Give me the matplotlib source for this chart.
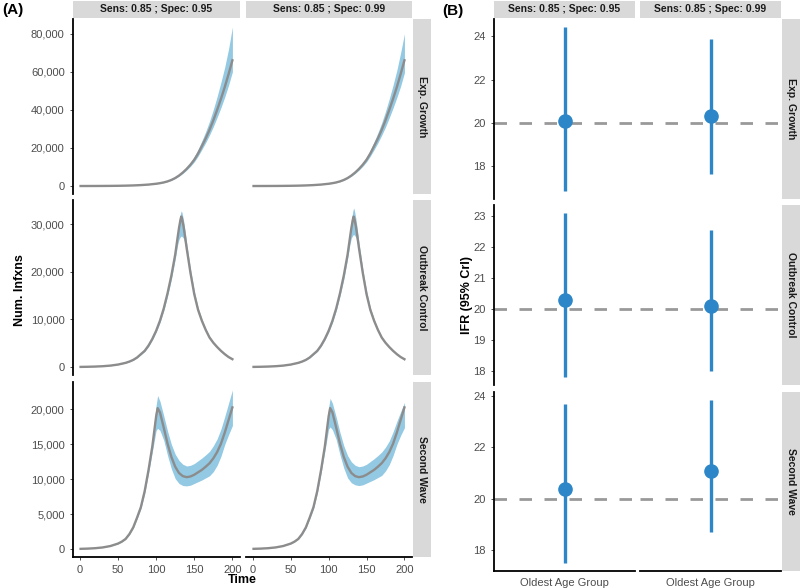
import matplotlib
matplotlib.use("Agg")
import matplotlib.pyplot as plt
import matplotlib.ticker as mticker
import numpy as np

plt.rcParams['font.family'] = ['Liberation Sans', 'DejaVu Sans']

# ---- panel A data: infections over time (median + 95% band) ----
scenarios = ["Exp. Growth", "Outbreak Control", "Second Wave"]
assays = ["Sens: 0.85 ; Spec: 0.95", "Sens: 0.85 ; Spec: 0.99"]

exp_time = [1, 10, 20, 30, 40, 50, 60, 70, 80, 90, 100,
            105, 110, 115, 120, 125, 130, 135, 140, 145, 150, 155, 160, 165, 170, 175, 180, 185, 190, 195, 200]
exp_med = [17, 24, 36, 55, 85, 130, 205, 320, 500, 770, 1200,
           1500, 1900, 2450, 3200, 4200, 5500, 7100, 9000, 11200, 13800, 17100, 21000, 25000, 29500, 34500,
           40000, 45800, 52000, 58800, 66000]
exp_hi_1 = [18, 25, 38, 58, 90, 137, 215, 336, 525, 810, 1260,
            1580, 2000, 2600, 3400, 4500, 5950, 7750, 9900, 12400, 15400, 19300, 23800, 28600, 34000, 40200,
            47000, 54500, 62500, 72000, 83500]
exp_lo_1 = [16, 23, 34, 52, 81, 124, 195, 304, 475, 730, 1140,
            1430, 1800, 2320, 3020, 3950, 5150, 6620, 8350, 10350, 12700, 15700, 19200, 22800, 26800, 31200,
            36100, 41200, 46800, 53000, 60000]
exp_hi_2 = [18, 25, 38, 58, 90, 137, 215, 336, 525, 810, 1260,
            1580, 2000, 2580, 3380, 4450, 5880, 7650, 9750, 12200, 15100, 18900, 23300, 28000, 33200, 39200,
            45800, 53000, 60800, 70000, 80000]
exp_lo_2 = [16, 23, 34, 52, 81, 124, 195, 304, 475, 730, 1140,
            1430, 1800, 2320, 3020, 3950, 5150, 6620, 8350, 10350, 12700, 15700, 19100, 22700, 26700, 31000,
            35900, 41000, 46500, 52500, 59500]

ob_time = [1, 10, 20, 30, 40, 50, 60, 65, 70, 75, 80, 85, 90, 95, 100, 105, 110, 115, 120, 125,
           128, 130, 132, 133, 134, 136, 138, 140, 145, 150, 155, 160, 165, 170, 175, 180, 185, 190, 195, 200]
ob_med = [30, 55, 100, 175, 300, 520, 880, 1150, 1500, 2000, 2700, 3400, 4500, 5900, 7600, 9700, 12300, 15500,
          19200, 23600, 27000, 29200, 31000, 31600, 31100, 29500, 27300, 25000, 19800, 15300, 12000, 9700, 7800,
          6200, 5100, 4200, 3400, 2700, 2100, 1650]
ob_hi_1 = [32, 58, 105, 183, 315, 545, 920, 1200, 1570, 2090, 2820, 3560, 4700, 6150, 7900, 10100, 12800, 16100,
           19900, 24500, 28200, 30600, 32300, 32800, 32400, 30800, 28500, 26100, 20600, 16000, 12500, 10100, 8100,
           6450, 5300, 4380, 3550, 2820, 2200, 1730]
ob_lo_1 = [28, 52, 95, 167, 285, 495, 840, 1100, 1430, 1910, 2580, 3250, 4300, 5650, 7300, 9300, 11800, 14900,
           18400, 22600, 25500, 26800, 27400, 27500, 27400, 27000, 25800, 23900, 19000, 14700, 11500, 9300, 7500,
           5950, 4900, 4030, 3250, 2580, 2000, 1550]
ob_hi_2 = [32, 58, 105, 183, 315, 545, 920, 1200, 1570, 2090, 2820, 3560, 4700, 6150, 7900, 10100, 12800, 16100,
           19900, 24600, 28400, 30900, 32800, 33400, 32900, 31100, 28700, 26200, 20600, 16000, 12500, 10100, 8100,
           6450, 5300, 4380, 3550, 2820, 2200, 1730]
ob_lo_2 = [28, 52, 95, 167, 285, 495, 840, 1100, 1430, 1910, 2580, 3250, 4300, 5650, 7300, 9300, 11800, 14900,
           18400, 22700, 25700, 27100, 27700, 27800, 27700, 27200, 25900, 24000, 19000, 14700, 11500, 9300, 7500,
           5950, 4900, 4030, 3250, 2580, 2000, 1400]

sw_time = [1, 10, 20, 30, 40, 50, 55, 60, 65, 70, 75, 80, 85, 90, 95, 100, 102,
           105, 110, 115, 120, 125, 130, 135, 140, 145, 150, 155, 160, 165, 170, 175, 180, 185, 190, 195, 200]
sw_med = [30, 60, 120, 230, 430, 780, 1060, 1450, 2150, 3100, 4500, 6000, 8300, 11300, 14700, 19000, 20200,
          19600, 17400, 15100, 13200, 11800, 10900, 10450, 10300, 10400, 10650, 11000, 11350, 11800, 12300,
          13000, 13900, 15100, 16700, 18500, 20300]
sw_hi_1 = [32, 63, 125, 240, 445, 810, 1100, 1510, 2230, 3220, 4680, 6250, 8650, 11800, 15500, 20600, 22000,
           21200, 19100, 16900, 15000, 13600, 12700, 12150, 11900, 12000, 12250, 12650, 13050, 13500, 14000,
           14800, 15800, 17200, 19000, 20900, 22800]
sw_lo_1 = [28, 57, 115, 220, 415, 750, 1020, 1390, 2070, 2980, 4320, 5750, 7950, 10800, 13900, 17000, 17300,
           17000, 15600, 13400, 11500, 10100, 9400, 9100, 9050, 9150, 9400, 9650, 9900, 10200, 10500,
           11100, 12000, 13300, 15000, 16400, 17700]
sw_hi_2 = [32, 63, 125, 240, 445, 810, 1100, 1510, 2230, 3220, 4680, 6250, 8650, 11750, 15400, 20300, 21600,
           20900, 18900, 16700, 14800, 13400, 12500, 12000, 11800, 11900, 12150, 12550, 12950, 13400, 13900,
           14600, 15500, 16800, 18300, 19700, 21000]
sw_lo_2 = [28, 57, 115, 220, 415, 750, 1020, 1390, 2070, 2980, 4320, 5750, 7950, 10850, 14000, 17200, 17500,
           17100, 15700, 13500, 11600, 10200, 9500, 9200, 9100, 9200, 9450, 9700, 9950, 10250, 10550,
           11200, 12100, 13400, 15000, 16300, 17400]

# ---- panel B data: IFR estimate for oldest age group ----
age_group = "Oldest Age Group"
true_ifr = 20
ifr_med = [[20.09, 20.33], [20.30, 20.10], [20.38, 21.10]]
ifr_lo = [[16.86, 17.65], [17.82, 18.00], [17.52, 18.73]]
ifr_hi = [[24.43, 23.88], [23.10, 22.57], [23.68, 23.83]]

infx = [
    [(exp_time, exp_med, exp_lo_1, exp_hi_1), (exp_time, exp_med, exp_lo_2, exp_hi_2)],
    [(ob_time, ob_med, ob_lo_1, ob_hi_1), (ob_time, ob_med, ob_lo_2, ob_hi_2)],
    [(sw_time, sw_med, sw_lo_1, sw_hi_1), (sw_time, sw_med, sw_lo_2, sw_hi_2)],
]
a_ticks = [np.arange(0, 80001, 20000), np.arange(0, 30001, 10000), np.arange(0, 20001, 5000)]
b_ticks = [[18, 20, 22, 24], [18, 19, 20, 21, 22, 23], [18, 20, 22, 24]]

W, H = 800, 588
STRIP = "#D9D9D9"
TXT = "#4D4D4D"
BAND = "#93C9E3"
LINE = "#8C8C8C"
BLUE = "#2C86C7"


def box(x0, y0, x1, y1):
    return [x0 / W, 1 - y1 / H, (x1 - x0) / W, (y1 - y0) / H]


def strip(x0, y0, x1, y1, label, rot=0):
    s = fig.add_axes(box(x0, y0, x1, y1))
    s.set_facecolor(STRIP)
    s.set_xticks([])
    s.set_yticks([])
    for sp in s.spines.values():
        sp.set_visible(False)
    s.text(0.5, 0.5, label, transform=s.transAxes, ha='center', va='center',
           rotation=rot, fontsize=7.5, fontweight='bold', color='#1A1A1A')


def style(ax, col, row):
    for k in ['top', 'right']:
        ax.spines[k].set_visible(False)
    ax.spines['left'].set_visible(col == 0)
    ax.spines['bottom'].set_visible(row == 2)
    for k in ['left', 'bottom']:
        ax.spines[k].set_linewidth(1.3)
        ax.spines[k].set_color('black')
    ax.tick_params(colors='#333333', labelcolor=TXT, labelsize=8, length=2.5, width=0.6)
    if col != 0:
        ax.tick_params(axis='y', left=False, labelleft=False)
    if row != 2:
        ax.tick_params(axis='x', bottom=False, labelbottom=False)


fig = plt.figure(figsize=(W / 100, H / 100), dpi=100)

a_cols = [(73, 240), (246, 412)]
a_rows = [(19, 194), (200, 375), (382, 557)]
b_cols = [(494, 635), (640, 781)]
b_rows = [(19, 199), (205, 385), (392, 571)]

# panel A
for r in range(3):
    ymax = max(max(infx[r][c][3]) for c in range(2))
    for c in range(2):
        t, med, lo, hi = infx[r][c]
        ax = fig.add_axes(box(a_cols[c][0], a_rows[r][0], a_cols[c][1], a_rows[r][1]))
        ax.fill_between(t, lo, hi, color=BAND, lw=0)
        ax.plot(t, med, color=LINE, lw=1.7, solid_joinstyle='round')
        ax.set_xlim(-8.95, 209.95)
        ax.set_ylim(-0.05 * ymax, 1.05 * ymax)
        ax.set_yticks(a_ticks[r])
        ax.yaxis.set_major_formatter(mticker.StrMethodFormatter('{x:,.0f}'))
        ax.set_xticks([0, 50, 100, 150, 200])
        style(ax, c, r)
    strip(413, a_rows[r][0], 431, a_rows[r][1], scenarios[r], rot=-90)
for c in range(2):
    strip(a_cols[c][0], 1, a_cols[c][1], 18, assays[c])

# panel B
for r in range(3):
    lo_all = min(ifr_lo[r])
    hi_all = max(ifr_hi[r])
    pad = 0.05 * (hi_all - lo_all)
    for c in range(2):
        ax = fig.add_axes(box(b_cols[c][0], b_rows[r][0], b_cols[c][1], b_rows[r][1]))
        ax.axhline(true_ifr, color='#999999', lw=2.0, dashes=(4.5, 4.5), zorder=1)
        ax.vlines([age_group], ifr_lo[r][c], ifr_hi[r][c], color=BLUE, lw=2.4, zorder=2)
        ax.plot([age_group], [ifr_med[r][c]], 'o', color=BLUE, ms=9.5, zorder=3)
        ax.set_xlim(-0.6, 0.6)
        ax.set_ylim(lo_all - pad, hi_all + pad)
        ax.set_yticks(b_ticks[r])
        style(ax, c, r)
        if r == 2:
            ax.tick_params(axis='x', length=0, pad=5)
    strip(782, b_rows[r][0], 800, b_rows[r][1], scenarios[r], rot=-90)
for c in range(2):
    strip(b_cols[c][0], 1, b_cols[c][1], 18, assays[c])

# titles and tags
fig.text(20 / W, 1 - 290 / H, "Num. Infxns", rotation=90, ha='center', va='center',
         fontsize=9, fontweight='bold')
fig.text(242 / W, 1 - 580 / H, "Time", ha='center', va='center', fontsize=9, fontweight='bold')
fig.text(467 / W, 1 - 295 / H, "IFR (95% CrI)", rotation=90, ha='center', va='center',
         fontsize=9, fontweight='bold')
fig.text(2 / W, 1 - 10 / H, "(A)", ha='left', va='center', fontsize=11, fontweight='bold')
fig.text(442 / W, 1 - 11 / H, "(B)", ha='left', va='center', fontsize=11, fontweight='bold')

fig.savefig("out.png", dpi=100, facecolor='white')
